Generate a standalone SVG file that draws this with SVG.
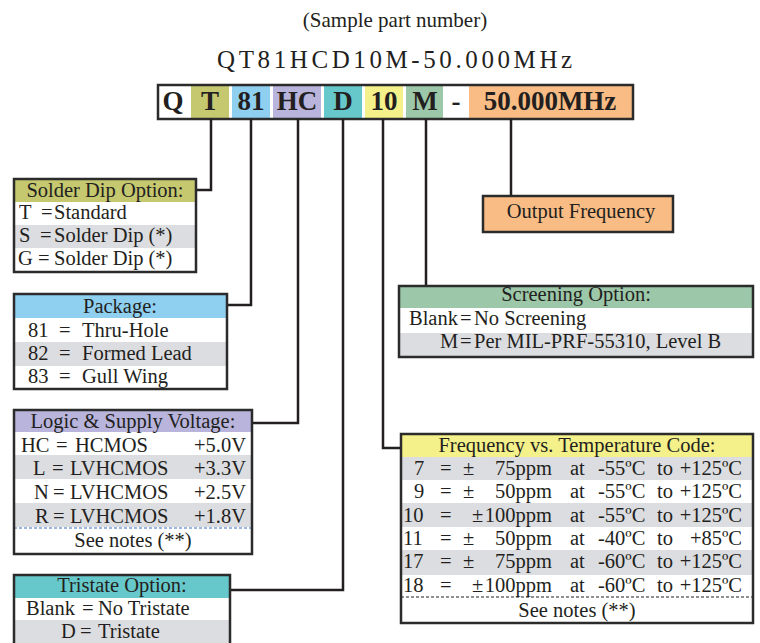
<svg xmlns="http://www.w3.org/2000/svg" width="760" height="643" viewBox="0 0 760 643">
<style>
text{font-family:"Liberation Serif","Times New Roman",serif;fill:#231f20}
.t{font-size:20.5px}
.m{text-anchor:middle}
.e{text-anchor:end}
.h{font-size:27px;font-weight:bold;text-anchor:middle}
.box{fill:none;stroke:#2b2b2b;stroke-width:2.5}
.g{fill:#dcdde0}
.w{fill:#fff}
.con{fill:none;stroke:#231f20;stroke-width:2.5}
</style>
<rect width="760" height="643" fill="#fff"/>
<g id="title">
<text x="395" y="27" class="m" style="font-size:21px">(Sample part number)</text>
<text x="217" y="68" style="font-size:25px;letter-spacing:3.6px">QT81HCD10M-50.000MHz</text>
</g>
<g id="partbar">
<rect x="158" y="85" width="475" height="34" fill="#fff"/>
<rect x="191" y="85" width="38" height="34" fill="#c6c870"/>
<rect x="232" y="85" width="38" height="34" fill="#8fcff0"/>
<rect x="273" y="85" width="48" height="34" fill="#b8b4dc"/>
<rect x="324" y="85" width="38" height="34" fill="#67c8cb"/>
<rect x="365" y="85" width="38" height="34" fill="#f4f08a"/>
<rect x="406" y="85" width="37" height="34" fill="#9cc7a8"/>
<rect x="469" y="85" width="164" height="34" fill="#f9bc84"/>
<rect x="158" y="85" width="475" height="34" class="box"/>
<text x="173" y="110" class="h">Q</text>
<text x="210" y="110" class="h">T</text>
<text x="251" y="110" class="h">81</text>
<text x="297" y="110" class="h">HC</text>
<text x="343" y="110" class="h">D</text>
<text x="384" y="110" class="h">10</text>
<text x="425" y="110" class="h">M</text>
<text x="456" y="110" class="h">-</text>
<text x="550" y="110" class="h">50.000MHz</text>
</g>
<g id="connectors">
<path class="con" d="M211,119 V190 H196"/>
<path class="con" d="M251,119 V305 H227"/>
<path class="con" d="M298,119 V423 H252"/>
<path class="con" d="M343,119 V590 H230"/>
<path class="con" d="M383,119 V448 H401"/>
<path class="con" d="M426,119 V286"/>
<path class="con" d="M511,119 V196"/>
</g>
<g id="solder">
<rect x="14" y="179" width="182" height="93" class="w"/>
<rect x="14" y="179" width="182" height="23" fill="#c6c870"/>
<rect x="14" y="225" width="182" height="23" class="g"/>
<rect x="14" y="179" width="182" height="93" class="box"/>
<text x="105" y="197" class="t m">Solder Dip Option:</text>
<text x="19" y="219" class="t">T</text><text x="41" y="219" class="t">=</text><text x="54" y="219" class="t">Standard</text>
<text x="19" y="242" class="t">S</text><text x="40" y="242" class="t">=</text><text x="54" y="242" class="t">Solder Dip (*)</text>
<text x="18" y="265" class="t">G</text><text x="38" y="265" class="t">=</text><text x="54" y="265" class="t">Solder Dip (*)</text>
</g>
<g id="package">
<rect x="14" y="294" width="213" height="95" class="w"/>
<rect x="14" y="294" width="213" height="24" fill="#8fcff0"/>
<rect x="14" y="342" width="213" height="24" class="g"/>
<rect x="14" y="294" width="213" height="95" class="box"/>
<text x="120" y="313" class="t m">Package:</text>
<text x="28" y="337" class="t">81</text><text x="59" y="337" class="t">=</text><text x="82" y="337" class="t">Thru-Hole</text>
<text x="28" y="360" class="t">82</text><text x="59" y="360" class="t">=</text><text x="82" y="360" class="t">Formed Lead</text>
<text x="28" y="383" class="t">83</text><text x="59" y="383" class="t">=</text><text x="82" y="383" class="t">Gull Wing</text>
</g>
<g id="logic">
<rect x="14" y="410" width="238" height="144" class="w"/>
<rect x="14" y="410" width="238" height="22" fill="#b8b4dc"/>
<rect x="14" y="455" width="238" height="24" class="g"/>
<rect x="14" y="503" width="238" height="24" class="g"/>
<line x1="14" y1="528" x2="252" y2="528" stroke="#3a6fc0" stroke-width="1.2" stroke-dasharray="3,2"/>
<rect x="14" y="410" width="238" height="144" class="box"/>
<text x="133" y="428" class="t m">Logic &amp; Supply Voltage:</text>
<text x="21" y="452" class="t">HC</text><text x="56" y="452" class="t">=</text><text x="75" y="452" class="t">HCMOS</text><text x="246" y="452" class="t e">+5.0V</text>
<text x="33" y="475" class="t">L</text><text x="52" y="475" class="t">=</text><text x="70" y="475" class="t">LVHCMOS</text><text x="246" y="475" class="t e">+3.3V</text>
<text x="34" y="499" class="t">N</text><text x="53" y="499" class="t">=</text><text x="70" y="499" class="t">LVHCMOS</text><text x="246" y="499" class="t e">+2.5V</text>
<text x="35" y="523" class="t">R</text><text x="53" y="523" class="t">=</text><text x="70" y="523" class="t">LVHCMOS</text><text x="246" y="523" class="t e">+1.8V</text>
<text x="133" y="547" class="t m">See notes (**)</text>
</g>
<g id="tristate">
<rect x="14" y="575" width="216" height="70" class="w"/>
<rect x="14" y="575" width="216" height="23" fill="#67c8cb"/>
<rect x="14" y="620" width="216" height="25" class="g"/>
<rect x="14" y="575" width="216" height="70" class="box"/>
<text x="122" y="592" class="t m">Tristate Option:</text>
<text x="26" y="615" class="t">Blank</text><text x="82" y="615" class="t">=</text><text x="98" y="615" class="t">No Tristate</text>
<text x="61" y="638" class="t">D</text><text x="80" y="638" class="t">=</text><text x="98" y="638" class="t">Tristate</text>
</g>
<g id="output">
<rect x="483" y="196" width="190" height="36" fill="#f9bc84" stroke="#2b2b2b" stroke-width="2.5"/>
<text x="581" y="218" class="t m">Output Frequency</text>
</g>
<g id="screening">
<rect x="399" y="286" width="354" height="71" class="w"/>
<rect x="399" y="286" width="354" height="22" fill="#9cc7a8"/>
<rect x="399" y="333" width="354" height="24" class="g"/>
<rect x="399" y="286" width="354" height="71" class="box"/>
<text x="576" y="301" class="t m">Screening Option:</text>
<text x="409" y="325" class="t">Blank</text><text x="460" y="325" class="t">=</text><text x="474" y="325" class="t">No Screening</text>
<text x="440" y="348" class="t">M</text><text x="460" y="348" class="t">=</text><text x="474" y="348" class="t">Per MIL-PRF-55310, Level B</text>
</g>
<g id="freqtemp">
<rect x="401" y="434" width="352" height="189" class="w"/>
<rect x="401" y="434" width="352" height="23" fill="#f4f08a"/>
<rect x="401" y="457" width="352" height="23" class="g"/>
<rect x="401" y="503" width="352" height="24" class="g"/>
<rect x="401" y="550" width="352" height="25" class="g"/>
<line x1="401" y1="597" x2="753" y2="597" stroke="#231f20" stroke-width="1.2" stroke-dasharray="3,2"/>
<rect x="401" y="434" width="352" height="189" class="box"/>
<text x="577" y="452" class="t m">Frequency vs. Temperature Code:</text>
<g class="t">
<text x="414" y="475" class="t">7</text><text x="440" y="475" class="t">=</text><text x="463" y="475" class="t">±</text><text x="552" y="475" class="t e">75ppm</text><text x="570" y="475" class="t">at</text><text x="598" y="475" class="t">-55ºC</text><text x="657" y="475" class="t">to</text><text x="742" y="475" class="t e">+125ºC</text>
<text x="414" y="498" class="t">9</text><text x="440" y="498" class="t">=</text><text x="463" y="498" class="t">±</text><text x="552" y="498" class="t e">50ppm</text><text x="570" y="498" class="t">at</text><text x="598" y="498" class="t">-55ºC</text><text x="657" y="498" class="t">to</text><text x="742" y="498" class="t e">+125ºC</text>
<text x="403" y="522" class="t">10</text><text x="440" y="522" class="t">=</text><text x="472" y="522" class="t">±</text><text x="552" y="522" class="t e">100ppm</text><text x="570" y="522" class="t">at</text><text x="598" y="522" class="t">-55ºC</text><text x="657" y="522" class="t">to</text><text x="742" y="522" class="t e">+125ºC</text>
<text x="403" y="545" class="t">11</text><text x="440" y="545" class="t">=</text><text x="463" y="545" class="t">±</text><text x="552" y="545" class="t e">50ppm</text><text x="570" y="545" class="t">at</text><text x="598" y="545" class="t">-40ºC</text><text x="657" y="545" class="t">to</text><text x="742" y="545" class="t e">+85ºC</text>
<text x="403" y="568" class="t">17</text><text x="440" y="568" class="t">=</text><text x="463" y="568" class="t">±</text><text x="552" y="568" class="t e">75ppm</text><text x="570" y="568" class="t">at</text><text x="598" y="568" class="t">-60ºC</text><text x="657" y="568" class="t">to</text><text x="742" y="568" class="t e">+125ºC</text>
<text x="403" y="592" class="t">18</text><text x="440" y="592" class="t">=</text><text x="472" y="592" class="t">±</text><text x="552" y="592" class="t e">100ppm</text><text x="570" y="592" class="t">at</text><text x="598" y="592" class="t">-60ºC</text><text x="657" y="592" class="t">to</text><text x="742" y="592" class="t e">+125ºC</text>
</g>
<text x="577" y="617" class="t m">See notes (**)</text>
</g>
</svg>
